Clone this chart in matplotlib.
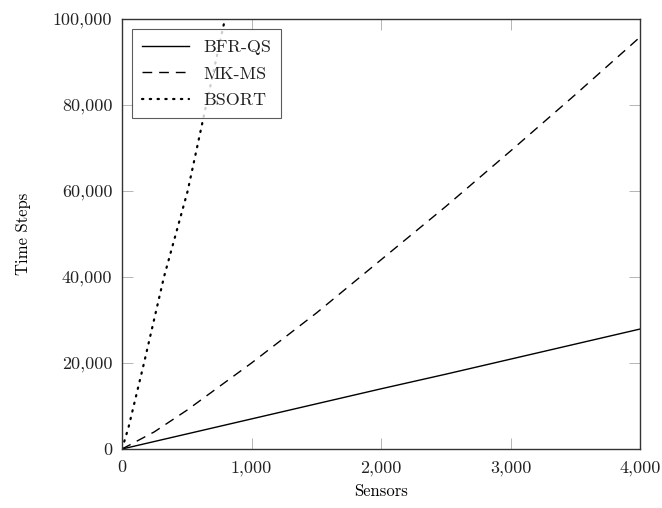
import matplotlib
matplotlib.use("Agg")
import matplotlib.pyplot as plt
from matplotlib.ticker import FuncFormatter

plt.rcParams["font.family"] = ["cmr10", "DejaVu Serif"]
plt.rcParams["axes.formatter.use_mathtext"] = True
plt.rcParams["text.color"] = "#222222"
plt.rcParams["xtick.labelcolor"] = "#222222"
plt.rcParams["ytick.labelcolor"] = "#222222"

# sensors (x) and time steps (y) per algorithm
bfr_x = [0, 500, 1000, 1500, 2000, 2500, 3000, 3500, 4000]
bfr_y = [0, 3500, 7000, 10500, 14000, 17400, 20900, 24400, 27900]

mk_x = [0, 250, 500, 1000, 1500, 2000, 2500, 3000, 3500, 4000]
mk_y = [0, 4000, 9000, 20000, 31600, 44000, 56400, 69300, 82400, 95800]

bs_x = [0, 50, 170, 324, 507, 650, 795, 900]
bs_y = [0, 5000, 20000, 40000, 60000, 80000, 100000, 114000]

xticks = [0, 1000, 2000, 3000, 4000]
yticks = [0, 20000, 40000, 60000, 80000, 100000]

fig = plt.figure(figsize=(6.62, 5.08), dpi=100)
ax = fig.add_axes([0.1843, 0.1161, 0.7825, 0.8465])

ax.plot(bfr_x, bfr_y, color="black", lw=1.0, label="BFR-QS")
ax.plot(mk_x, mk_y, color="black", lw=1.0, linestyle=(0, (7, 5)), label="MK-MS")
ax.plot(bs_x, bs_y, color="black", lw=1.6, linestyle=(0, (0.6, 2.9)),
        dash_capstyle="round", label="BSORT")

ax.set_xlim(0, 4000)
ax.set_ylim(0, 100000)
ax.set_xticks(xticks)
ax.set_yticks(yticks)
fmt = FuncFormatter(lambda v, p: f"{v:,.0f}")
ax.xaxis.set_major_formatter(fmt)
ax.yaxis.set_major_formatter(fmt)
ax.tick_params(direction="in", length=8, width=0.6, color="#aaaaaa",
               top=True, right=True, labelsize=13)
ax.tick_params(axis="x", pad=8)
ax.tick_params(axis="y", pad=7)

for s in ax.spines.values():
    s.set_linewidth(1.0)
    s.set_color("#333333")

ax.set_xlabel("Sensors", fontsize=12, labelpad=6)
ax.set_ylabel("Time Steps", fontsize=12, labelpad=16)

leg = ax.legend(loc="upper left", fontsize=13, frameon=True, fancybox=False,
                edgecolor="#333333", handlelength=2.6, borderaxespad=0.58,
                labelspacing=0.6, handletextpad=0.75, borderpad=0.55)
leg.get_frame().set_linewidth(0.8)

fig.savefig("out.png", dpi=100)
